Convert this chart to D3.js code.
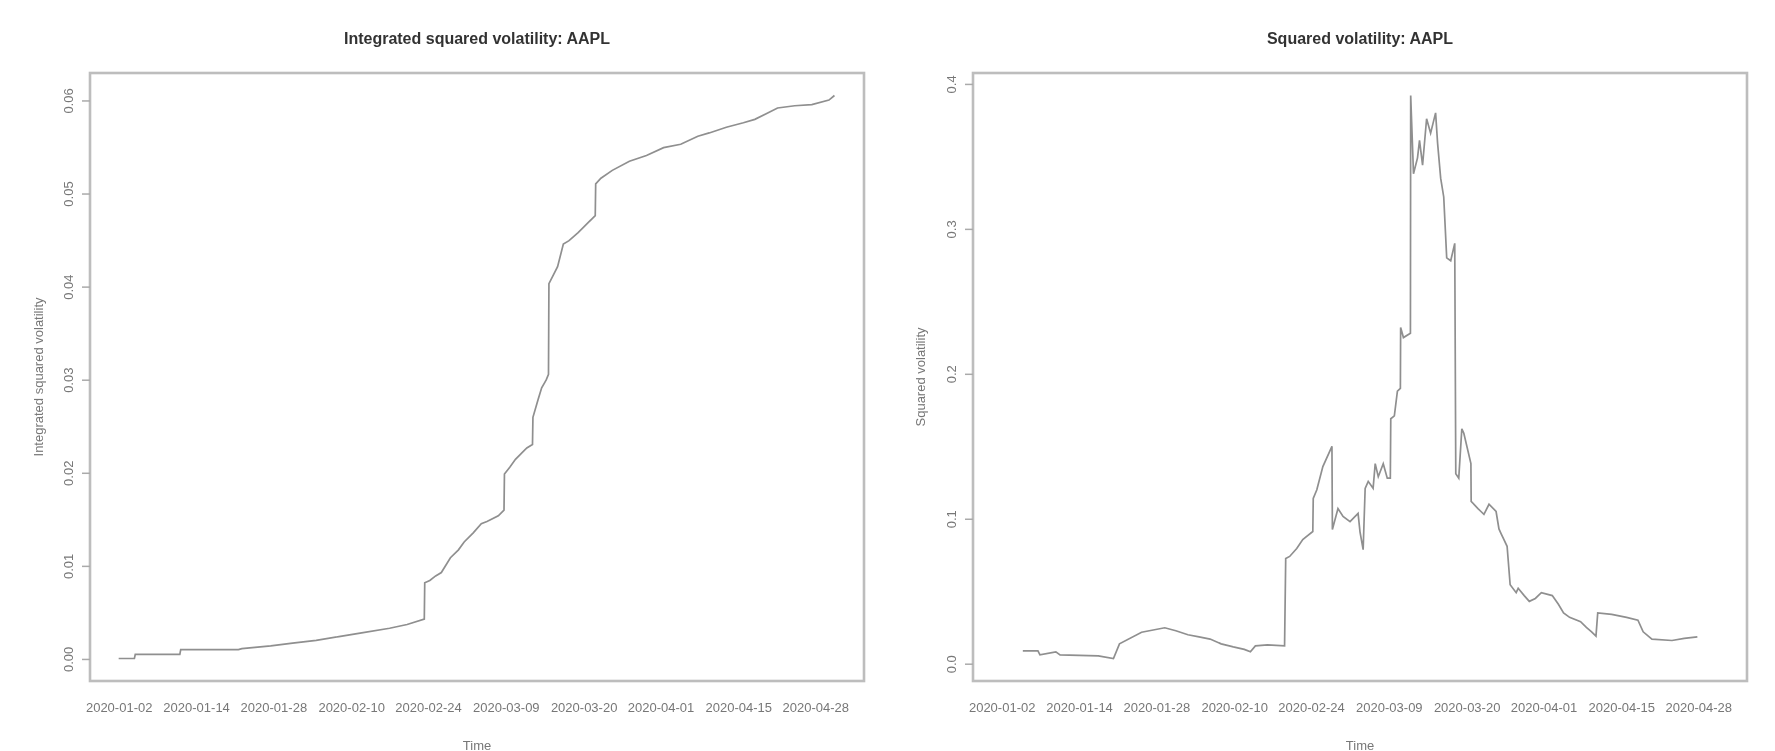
<!DOCTYPE html>
<html lang="en">
<head>
  <meta charset="UTF-8" />
  <title>Squared volatility: AAPL</title>
  <style>
    body {
      margin: 0;
      padding: 0;
      background: #fff;
    }
    svg {
      display: block;
      font-family: "Liberation Sans", Arial, sans-serif;
    }
    .frame {
      fill: none;
      stroke: #bdbdbd;
      stroke-width: 2.6;
    }
    .series {
      fill: none;
      stroke: #8f8f8f;
      stroke-width: 1.7;
      stroke-linejoin: miter;
    }
    .title {
      font-weight: bold;
      font-size: 16px;
      fill: #333;
    }
    .tick-label, .axis-title {
      font-size: 13px;
      fill: #777;
    }
  </style>
</head>
<body>
<svg id="chart" width="1775" height="751"></svg>

<script src="https://cdnjs.cloudflare.com/ajax/libs/d3/7.8.5/d3.min.js"></script>
<script>
  // x is the trading-day position (0 = 2020-01-02)
  const dateLabels = ["2020-01-02", "2020-01-14", "2020-01-28", "2020-02-10", "2020-02-24",
                      "2020-03-09", "2020-03-20", "2020-04-01", "2020-04-15", "2020-04-28"];
  const datePos = [0, 8.86, 17.7, 26.6, 35.4, 44.3, 53.2, 62, 70.9, 79.7];

  // integrated squared volatility (left)
  const intT = [0, 1.8, 1.9, 7.0, 7.1, 13.7, 14.1, 17.4, 19.9, 22.6, 25.2, 27.8, 31, 33, 34.97,
                35.02, 35.6, 36.27, 36.92, 37.96, 38.88, 39.53, 40.57, 41.49, 42.14, 43.44, 44.09,
                44.14, 44.75, 45.4, 46.05, 46.7, 47.35, 47.4, 48.0, 48.4, 48.92, 49.18, 49.23,
                49.7, 50.22, 50.88, 51.53, 52.57, 53.23, 54.13, 54.53, 54.58, 55.18, 56.48, 58.44,
                60.39, 62.35, 64.31, 66.27, 67.57, 69.53, 71.48, 72.79, 74.09, 75.39, 77.35,
                79.31, 81.27, 81.9];
  const intV = [0.00005, 0.00005, 0.0005, 0.0005, 0.001, 0.001, 0.0011, 0.0014, 0.0017, 0.0020,
                0.0024, 0.0028, 0.0033, 0.0037, 0.00429,
                0.00819, 0.00843, 0.00892, 0.00928, 0.01087, 0.01172, 0.01257, 0.01355, 0.01452,
                0.01476, 0.01537, 0.01598, 0.01987, 0.0206, 0.02145, 0.02206, 0.02267, 0.02304,
                0.02596, 0.0279, 0.02913, 0.02998, 0.03058, 0.04032, 0.04117, 0.04215, 0.04458,
                0.04494, 0.0458, 0.04641, 0.04726, 0.04762, 0.05103, 0.05164, 0.05249, 0.05347,
                0.05408, 0.05493, 0.05529, 0.05615, 0.05651, 0.05712, 0.0576, 0.05797, 0.05858,
                0.05919, 0.05943, 0.05956, 0.06004, 0.06053];

  // squared volatility (right)
  const volT = [2.42, 4.15, 4.38, 6.2, 6.68, 11.06, 12.79, 13.48, 16.01, 18.66, 19.93, 21.31,
                22.58, 23.85, 25.12, 26.5, 27.76, 28.46, 29.03, 30.41, 32.37, 32.5, 32.95, 33.76,
                34.45, 35.6, 35.65, 36.06, 36.75, 37.79, 37.84, 38.48, 39.06, 39.86, 40.78, 41.0,
                41.36, 41.59, 41.94, 42.5, 42.74, 43.09, 43.66, 44.12, 44.47, 44.52, 44.93, 45.28,
                45.62, 45.65, 45.97, 46.77, 46.8, 47.12, 47.58, 47.81, 48.16, 48.62, 49.08, 49.65,
                49.88, 50.23, 50.58, 50.92, 51.38, 51.84, 51.96, 52.3, 52.65, 52.88, 53.69, 53.72,
                54.5, 54.84, 55.18, 55.76, 56.57, 56.9, 57.14, 57.83, 58.18, 58.87, 59.1, 59.79,
                60.37, 61.06, 61.75, 63.0, 63.7, 64.29, 64.98, 66.24, 66.9, 67.5, 68.0, 68.2,
                69.8, 71.5, 72.8, 73.4, 74.4, 76.7, 78.1, 79.6];
  const volV = [0.0089, 0.0089, 0.0061, 0.0082, 0.0061, 0.0054, 0.0036, 0.0137, 0.0217, 0.0248,
                0.0227, 0.020, 0.0185, 0.017, 0.0137, 0.0116, 0.0099, 0.0082, 0.0123, 0.013,
                0.0123, 0.0725, 0.074, 0.0795, 0.0857, 0.0912, 0.114, 0.120, 0.136, 0.150, 0.0926,
                0.107, 0.1016, 0.098, 0.1037, 0.091, 0.0787, 0.121, 0.1258, 0.121, 0.138, 0.129,
                0.138, 0.128, 0.128, 0.169, 0.171, 0.188, 0.190, 0.232, 0.225, 0.228, 0.392, 0.338,
                0.349, 0.361, 0.344, 0.376, 0.366, 0.380, 0.359, 0.335, 0.322, 0.280, 0.278, 0.290,
                0.131, 0.128, 0.162, 0.159, 0.138, 0.112, 0.107, 0.105, 0.103, 0.110, 0.105, 0.093,
                0.0898, 0.081, 0.0545, 0.049, 0.052, 0.047, 0.043, 0.045, 0.049, 0.047, 0.041,
                0.035, 0.032, 0.029, 0.025, 0.022, 0.019, 0.035, 0.034, 0.032, 0.030, 0.022, 0.017,
                0.016, 0.0175, 0.0185];

  const leftTicks = [0.00, 0.01, 0.02, 0.03, 0.04, 0.05, 0.06];
  const rightTicks = [0.0, 0.1, 0.2, 0.3, 0.4];

  const svg = d3.select("#chart");

  // soft edge, the reference is a little blurry
  svg.append("defs").append("filter")
    .attr("id", "soft")
    .append("feGaussianBlur")
    .attr("stdDeviation", 0.45);

  const root = svg.append("g").attr("filter", "url(#soft)");

  // R-style 4% padding around the data range
  function padded(lo, hi) {
    const p = (hi - lo) * 0.04;
    return [lo - p, hi + p];
  }

  const xDom = padded(0, 82);

  function drawPanel(opts) {
    const g = root.append("g");
    const x = d3.scaleLinear().domain(xDom).range([opts.left, opts.right]);
    const y = d3.scaleLinear().domain(padded(d3.min(opts.v), d3.max(opts.v))).range([681, 73]);

    const pts = opts.t.map((t, i) => [t, opts.v[i]]);
    const line = d3.line().x(d => x(d[0])).y(d => y(d[1]));

    g.append("path")
      .attr("class", "series")
      .attr("d", line(pts));

    g.append("rect")
      .attr("class", "frame")
      .attr("x", opts.left)
      .attr("y", 73)
      .attr("width", opts.right - opts.left)
      .attr("height", 681 - 73);

    // y axis: ticks outside, labels parallel to the axis
    const yAxis = d3.axisLeft(y)
      .tickValues(opts.ticks)
      .tickSize(8)
      .tickFormat(d3.format(opts.fmt));
    const ya = g.append("g")
      .attr("transform", `translate(${opts.left},0)`)
      .call(yAxis);
    ya.select(".domain").remove();
    ya.selectAll(".tick line").attr("stroke", "#aaa").attr("stroke-width", 1.5);
    ya.selectAll(".tick text")
      .attr("class", "tick-label")
      .attr("x", null).attr("dy", null)
      .attr("text-anchor", "middle")
      .attr("transform", `translate(${opts.tickLabelX - opts.left},0) rotate(-90)`)
      .attr("dominant-baseline", "central");

    // x axis: labels only
    const xAxis = d3.axisBottom(x)
      .tickValues(datePos)
      .tickSize(0)
      .tickPadding(0)
      .tickFormat((d, i) => dateLabels[i]);
    const xa = g.append("g")
      .attr("transform", "translate(0,707)")
      .call(xAxis);
    xa.select(".domain").remove();
    xa.selectAll(".tick text")
      .attr("class", "tick-label")
      .attr("y", 0).attr("dy", null)
      .attr("dominant-baseline", "central");

    const cx = (opts.left + opts.right) / 2;
    g.append("text")
      .attr("class", "title")
      .attr("x", cx).attr("y", 38)
      .attr("text-anchor", "middle")
      .attr("dominant-baseline", "central")
      .text(opts.title);

    g.append("text")
      .attr("class", "axis-title")
      .attr("x", cx).attr("y", 745)
      .attr("text-anchor", "middle")
      .attr("dominant-baseline", "central")
      .text("Time");

    g.append("text")
      .attr("class", "axis-title")
      .attr("transform", `translate(${opts.yTitleX},377) rotate(-90)`)
      .attr("text-anchor", "middle")
      .attr("dominant-baseline", "central")
      .text(opts.ylab);
  }

  drawPanel({
    left: 90, right: 864, t: intT, v: intV, ticks: leftTicks, fmt: ".2f",
    tickLabelX: 68, yTitleX: 38,
    title: "Integrated squared volatility: AAPL", ylab: "Integrated squared volatility"
  });

  drawPanel({
    left: 973, right: 1747, t: volT, v: volV, ticks: rightTicks, fmt: ".1f",
    tickLabelX: 951, yTitleX: 920,
    title: "Squared volatility: AAPL", ylab: "Squared volatility"
  });
</script>
</body>
</html>
